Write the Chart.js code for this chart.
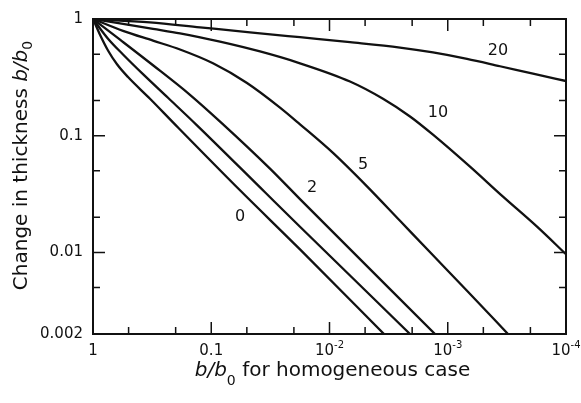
<!DOCTYPE html>
<html>
<head>
<meta charset="utf-8">
<script src="https://cdn.jsdelivr.net/npm/chart.js@4.4.1/dist/chart.umd.min.js"></script>
<style>
  body { margin: 0; background: #fff; }
</style>
</head>
<body>
<canvas id="thicknessChart" width="581" height="403"></canvas>
<script>
// b/b0 for the homogeneous case (x) and the layer's own b/b0 (y), one pair per curve
const homog0 = [1, 0.8727, 0.7466, 0.6266, 0.5058, 0.3296, 0.2106, 0.05713, 0.01776, 0.00346];
const thick0 = [1, 0.7328, 0.5373, 0.4093, 0.3179, 0.2073, 0.1301, 0.03406, 0.01062, 0.002];

const homog1 = [1, 0.7466, 0.5574, 0.3777, 0.2321, 0.1320, 0.03512, 0.01776, 0.002085];
const thick1 = [1, 0.6780, 0.4970, 0.3370, 0.2114, 0.1228, 0.03277, 0.01661, 0.002];

const homog2 = [1, 0.5909, 0.3108, 0.1513, 0.08111, 0.03186, 0.01776, 0.001282];
const thick2 = [1, 0.6650, 0.4015, 0.2241, 0.1276, 0.05224, 0.02861, 0.002];

const homog5 = [1, 0.5574, 0.3108, 0.1837, 0.09665, 0.04985, 0.02622, 0.01776, 0.009341, 0.004818, 0.002534, 0.001333, 0.0006874, 0.0003094];
const thick5 = [1, 0.7920, 0.6524, 0.5478, 0.4173, 0.2829, 0.1741, 0.1252, 0.07126, 0.03683, 0.01866, 0.009456, 0.004699, 0.002];

const homog10 = [1, 0.5574, 0.3108, 0.1837, 0.08433, 0.03870, 0.01776, 0.006709, 0.003528, 0.002085, 0.001333, 0.0006483, 0.0003410, 0.0001758, 0.0001];
const thick10 = [1, 0.9074, 0.8235, 0.7545, 0.6397, 0.5269, 0.4173, 0.2913, 0.2073, 0.1462, 0.1021, 0.05429, 0.03003, 0.01661, 0.009641];

const homog20 = [1, 0.3296, 0.1245, 0.04703, 0.01776, 0.006709, 0.002534, 0.001333, 0.0006874, 0.0003615, 0.0001902, 0.0001];
const thick20 = [1, 0.9343, 0.8479, 0.7695, 0.6982, 0.6335, 0.5693, 0.5166, 0.4553, 0.3937, 0.3402, 0.2942];

// curve labels and where they sit (data units)
const labelText = ['0', '2', '5', '10', '20'];
const labelX = [0.0571, 0.01406, 0.00521, 0.00121, 0.000376];
const labelY = [0.0202, 0.0361, 0.0565, 0.158, 0.537];

// axis ticks
const xTickVals = [1, 0.5, 0.2, 0.1, 0.05, 0.02, 0.01, 0.005, 0.002, 0.001, 0.0005, 0.0002, 0.0001];
const xMajorVals = [1, 0.1, 0.01, 0.001, 0.0001];
const xLabelBase = ['1', '0.1', '10', '10', '10'];
const xLabelExp = ['', '', '-2', '-3', '-4'];
const yTickVals = [1, 0.5, 0.2, 0.1, 0.05, 0.02, 0.01, 0.005, 0.002];
const yMajorVals = [1, 0.1, 0.01];
const yLabelVals = [1, 0.1, 0.01, 0.002];

const FONT = 'DejaVu Sans';
const INK = '#111';

function toPoints(xs, ys) {
  return xs.map((x, i) => ({ x: x, y: ys[i] }));
}

const curves = [
  { name: '0', xs: homog0, ys: thick0 },
  { name: '1', xs: homog1, ys: thick1 },
  { name: '2', xs: homog2, ys: thick2 },
  { name: '5', xs: homog5, ys: thick5 },
  { name: '10', xs: homog10, ys: thick10 },
  { name: '20', xs: homog20, ys: thick20 }
];

// draws text runs one after another (italic letters, subscripts)
function drawRuns(ctx, runs, x, y) {
  let total = 0;
  runs.forEach(r => {
    ctx.font = r.font;
    r.w = ctx.measureText(r.text).width;
    total += r.w;
  });
  let cx = x - total / 2;
  runs.forEach(r => {
    ctx.font = r.font;
    ctx.fillText(r.text, cx, y + (r.dy || 0));
    cx += r.w;
  });
}

const frameAndLabels = {
  id: 'frameAndLabels',
  afterDraw(chart) {
    const { ctx, chartArea: area, scales } = chart;
    const sx = scales.x, sy = scales.y;
    ctx.save();
    ctx.strokeStyle = INK;
    ctx.fillStyle = INK;

    ctx.lineWidth = 2;
    ctx.strokeRect(area.left, area.top, area.right - area.left, area.bottom - area.top);

    // ticks point inward on all four sides
    ctx.lineWidth = 1.5;
    ctx.beginPath();
    xTickVals.forEach(v => {
      const px = sx.getPixelForValue(v);
      const len = xMajorVals.includes(v) ? 12 : 7;
      ctx.moveTo(px, area.bottom);
      ctx.lineTo(px, area.bottom - len);
      ctx.moveTo(px, area.top);
      ctx.lineTo(px, area.top + len);
    });
    yTickVals.forEach(v => {
      const py = sy.getPixelForValue(v);
      const len = yMajorVals.includes(v) ? 12 : 7;
      ctx.moveTo(area.left, py);
      ctx.lineTo(area.left + len, py);
      ctx.moveTo(area.right, py);
      ctx.lineTo(area.right - len, py);
    });
    ctx.stroke();

    // x tick labels with raised exponents
    ctx.textBaseline = 'alphabetic';
    ctx.textAlign = 'left';
    xMajorVals.forEach((v, i) => {
      const px = sx.getPixelForValue(v);
      drawRuns(ctx, [
        { text: xLabelBase[i], font: '15px "' + FONT + '"' },
        { text: xLabelExp[i], font: '10px "' + FONT + '"', dy: -7 }
      ], px, area.bottom + 21);
    });

    // x title
    const midX = (area.left + area.right) / 2 + 3;
    drawRuns(ctx, [
      { text: 'b/b', font: 'italic 20px "' + FONT + '"' },
      { text: '0', font: '14px "' + FONT + '"', dy: 9 },
      { text: ' for homogeneous case', font: '20px "' + FONT + '"' }
    ], midX, area.bottom + 42);

    // y title, rotated
    ctx.save();
    ctx.translate(27, (area.top + area.bottom) / 2 - 11);
    ctx.rotate(-Math.PI / 2);
    drawRuns(ctx, [
      { text: 'Change in thickness ', font: '20px "' + FONT + '"' },
      { text: 'b/b', font: 'italic 20px "' + FONT + '"' },
      { text: '0', font: '14px "' + FONT + '"', dy: 5 }
    ], 0, 0);
    ctx.restore();

    // curve labels
    ctx.font = '16px "' + FONT + '"';
    ctx.textAlign = 'center';
    ctx.textBaseline = 'middle';
    labelText.forEach((t, i) => {
      ctx.fillText(t, sx.getPixelForValue(labelX[i]), sy.getPixelForValue(labelY[i]));
    });

    ctx.restore();
  }
};

new Chart(document.getElementById('thicknessChart'), {
  type: 'line',
  data: {
    datasets: curves.map(c => ({
      label: c.name,
      data: toPoints(c.xs, c.ys),
      borderColor: INK,
      borderWidth: 2.3,
      pointRadius: 0,
      fill: false,
      cubicInterpolationMode: 'monotone'
    }))
  },
  options: {
    responsive: false,
    animation: false,
    layout: { padding: { top: 14, right: 15, left: 0, bottom: 0 } },
    plugins: {
      legend: { display: false },
      tooltip: { enabled: false }
    },
    scales: {
      x: {
        type: 'logarithmic',
        reverse: true,
        min: 0.0001,
        max: 1,
        grid: { display: false, drawTicks: false },
        border: { display: false },
        ticks: { display: false },
        afterFit: scale => { scale.height = 69; }
      },
      y: {
        type: 'logarithmic',
        min: 0.002,
        max: 1,
        grid: { display: false, drawTicks: false },
        border: { display: false },
        afterBuildTicks: scale => {
          scale.ticks = yTickVals.map(v => ({ value: v }));
        },
        ticks: {
          autoSkip: false,
          padding: 10,
          color: INK,
          font: { family: FONT, size: 15 },
          callback: v => (yLabelVals.includes(v) ? String(v) : '')
        },
        afterFit: scale => { scale.width = 93; }
      }
    }
  },
  plugins: [frameAndLabels]
});
</script>
</body>
</html>
